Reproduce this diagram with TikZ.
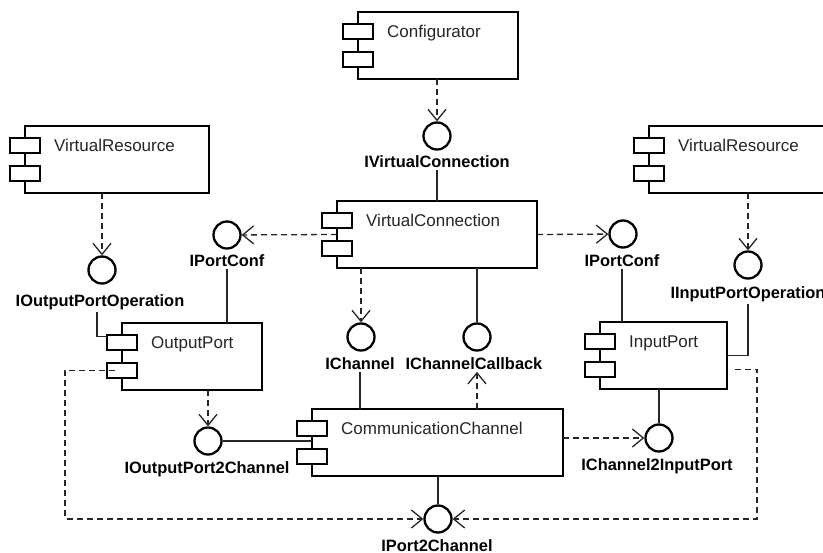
\documentclass[tikz,border=0pt]{standalone}
\usepackage{fontspec}
\setmainfont{Liberation Sans}
\usetikzlibrary{arrows.meta,calc}

% UML component: body, two tabs on the left edge, and its name
\newcommand\umlcomp[5]{%
  \node[comp, minimum width=#4pt] (#1) at (#2,#3) {};
  \node[tabbox] (#1-t1) at ($(#1.north west)+(-15,12)$) {};
  \node[tabbox] (#1-t2) at ($(#1.north west)+(-15,40)$) {};
  \node[cname] (#1-name) at ($(#1.north west)+(29,25.5)$) {#5};
}

\begin{document}
\begin{tikzpicture}[x=1pt,y=-1pt,
  comp/.style={draw=black, line width=2.6pt, fill=white, anchor=north west,
    inner sep=0pt, outer sep=0pt, minimum height=67pt},
  tabbox/.style={draw=black, line width=2.3pt, fill=white, anchor=north west,
    inner sep=0pt, outer sep=0pt, minimum width=30pt, minimum height=15pt},
  cname/.style={anchor=base west, inner sep=0pt, text=black!85,
    font=\fontsize{17}{20}\selectfont},
  iface/.style={circle, draw=black, line width=2.3pt, fill=white,
    minimum size=27pt, inner sep=0pt},
  ilabel/.style={anchor=base, inner sep=1.5pt,
    font=\fontsize{16.4}{19}\selectfont\bfseries},
  conn/.style={draw=black!85, line width=1.2pt},
  dep/.style={draw=black!85, line width=1.3pt, dash pattern=on 6pt off 4pt,
    -{Straight Barb[length=11pt,width=18pt]}},
]
\useasboundingbox[fill=white] (0,0) rectangle (823,553);

% components
\umlcomp{cfg}{358}{12}{160}{Configurator}
\umlcomp{vrl}{25}{126}{184}{VirtualResource}
\umlcomp{vrr}{649}{126}{184}{VirtualResource}
\umlcomp{vc}{337}{201}{200}{VirtualConnection}
\umlcomp{op}{122}{323}{140}{OutputPort}
\umlcomp{ip}{600}{322}{127}{InputPort}
\umlcomp{cc}{312}{409}{251}{CommunicationChannel}

% interfaces
\node[iface] (ivc)  at (437,136) {};
\node[iface] (pcl)  at (227,235) {};
\node[iface] (pcr)  at (623,234) {};
\node[iface] (ioo)  at (102,270) {};
\node[iface] (iio)  at (748,265) {};
\node[iface] (ich)  at (361,337) {};
\node[iface] (icb)  at (477,337) {};
\node[iface] (io2c) at (208,441) {};
\node[iface] (ic2i) at (659,438) {};
\node[iface] (p2c)  at (438,519) {};

% interface names
\node[ilabel] (ivcL)  at (437,168) {IVirtualConnection};
\node[ilabel] (pclL)  at (227,267) {IPortConf};
\node[ilabel] (pcrL)  at (622,267) {IPortConf};
\node[ilabel] (iooL)  at (100,307) {IOutputPortOperation};
\node[ilabel] (iioL)  at (748,299) {IInputPortOperation};
\node[ilabel] (ichL)  at (360,370) {IChannel};
\node[ilabel] (icbL)  at (474,370) {IChannelCallback};
\node[ilabel] (io2cL) at (207,474) {IOutputPort2Channel};
\node[ilabel] (ic2iL) at (657,471) {IChannel2InputPort};
\node[ilabel] (p2cL)  at (437,551) {IPort2Channel};

% corners of the dashed loop round the bottom
\coordinate (loopL) at (65,519);
\coordinate (loopR) at (757,519);

% connectors
\draw[dep]  (cfg.south -| ivc) -- (ivc);
\draw[conn] (ivcL.south) -- (ivcL.south |- vc.north);
\draw[dep]  (vc.west) -- (pcl);
\draw[dep]  (vc.east) -- (pcr);
\draw[conn] (pclL.south) -- (pclL.south |- op.north);
\draw[conn] (pcrL.south) -- (pcrL.south |- ip.north);
\draw[dep]  (vrl.south -| ioo) -- (ioo);
\draw[conn] ($(iooL.south)+(-3,0)$) |- ($(op-t1.north west)+(0,1.5)$);
\draw[dep]  (vrr.south -| iio) -- (iio);
\draw[conn] (iioL.south) |- (ip.east);
\draw[dep]  (vc.south -| ich) -- (ich);
\draw[conn] (ichL.south) -- (ichL.south |- cc.north);
\draw[conn] (vc.south -| icb) -- (icb);
\draw[dep]  (cc.north -| icb) -- (icb |- icbL.south);
\draw[dep]  (op.south -| io2c) -- (io2c);
\draw[conn] (io2c) -- (io2c -| cc.west);
\draw[conn] (ip.south -| ic2i) -- (ic2i);
\draw[dep]  (cc.east |- ic2i) -- (ic2i);
\draw[conn] (cc.south -| p2c) -- (p2c);
\draw[dep]  ($(op-t2.center)+(-7,0)$) -| (loopL) -- (p2c);
\draw[dep]  ($(ip.east |- ip-t2.center)+(8,0)$) -| (loopR) -- (p2c);
\end{tikzpicture}
\end{document}
